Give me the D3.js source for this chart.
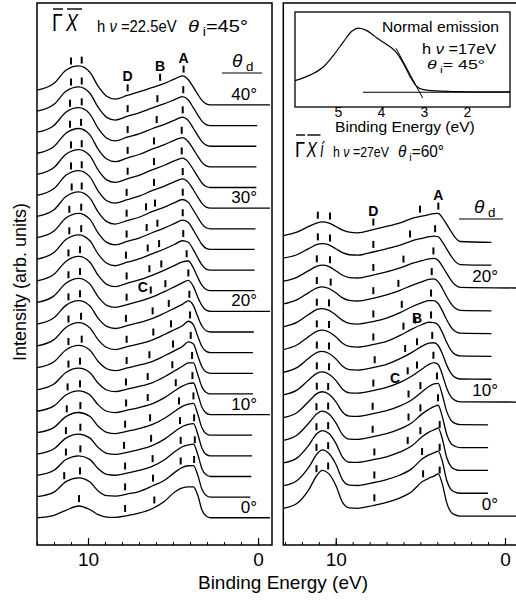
<!DOCTYPE html>
<html>
<head>
<meta charset="utf-8">
<script src="https://cdn.jsdelivr.net/npm/d3@7/dist/d3.min.js"></script>
<style>
body { margin: 0; background: #fff; }
svg { display: block; }
text { font-family: "Liberation Sans", Arial, Helvetica, sans-serif; fill: #000; }
</style>
</head>
<body>
<div id="chart"></div>
<script>
// ---- left panel (GX, hv=22.5eV) : binding energies and intensities per emission angle
const energyLeft = [13, 12, 11.3, 10.55, 9.9, 9.4, 8.9, 8.4, 7.7, 7.0, 6.2, 5.5, 4.9, 4.45, 4.1, 3.8, 3.55, 3.3, 3.05, 2.8]
const anglesLeft = [0, 2, 4, 6, 8, 10, 12, 14, 16, 18, 20, 22, 24, 26, 28, 30, 32, 34, 36, 38, 40]
const spectraLeft = [
  [0.00, 0.12, 0.36, 0.57, 0.40, 0.15, 0.03, 0.02, 0.10, 0.22, 0.45, 0.80, 1.25, 1.45, 1.50, 1.50, 1.10, 0.38, 0.08, 0],
  [0.02, 0.24, 0.75, 0.93, 0.74, 0.30, 0.07, 0.05, 0.15, 0.27, 0.55, 0.82, 1.20, 1.44, 1.52, 1.53, 1.08, 0.38, 0.08, 0],
  [0.05, 0.30, 0.82, 1.00, 0.83, 0.37, 0.10, 0.06, 0.16, 0.29, 0.50, 0.81, 1.20, 1.44, 1.53, 1.57, 1.08, 0.38, 0.08, 0],
  [0.08, 0.34, 0.86, 1.05, 0.87, 0.40, 0.12, 0.07, 0.17, 0.30, 0.51, 0.81, 1.18, 1.42, 1.52, 1.56, 1.06, 0.37, 0.07, 0],
  [0.12, 0.38, 0.90, 1.10, 0.92, 0.43, 0.14, 0.08, 0.19, 0.32, 0.52, 0.82, 1.16, 1.40, 1.50, 1.54, 1.03, 0.36, 0.07, 0],
  [0.16, 0.42, 0.95, 1.15, 0.96, 0.47, 0.16, 0.09, 0.21, 0.34, 0.53, 0.82, 1.15, 1.38, 1.50, 1.53, 1.00, 0.35, 0.07, 0],
  [0.20, 0.48, 1.04, 1.25, 1.04, 0.52, 0.19, 0.11, 0.23, 0.36, 0.55, 0.83, 1.12, 1.34, 1.50, 1.50, 0.95, 0.34, 0.07, 0],
  [0.27, 0.56, 1.13, 1.35, 1.13, 0.57, 0.22, 0.13, 0.26, 0.39, 0.58, 0.85, 1.10, 1.30, 1.52, 1.42, 0.86, 0.32, 0.06, 0],
  [0.33, 0.63, 1.22, 1.45, 1.21, 0.62, 0.25, 0.15, 0.29, 0.42, 0.62, 0.88, 1.12, 1.30, 1.52, 1.35, 0.80, 0.30, 0.06, 0],
  [0.38, 0.69, 1.29, 1.52, 1.27, 0.66, 0.27, 0.17, 0.31, 0.45, 0.66, 0.92, 1.16, 1.34, 1.51, 1.28, 0.75, 0.29, 0.06, 0],
  [0.43, 0.75, 1.36, 1.60, 1.33, 0.70, 0.29, 0.19, 0.33, 0.48, 0.70, 0.96, 1.20, 1.38, 1.50, 1.20, 0.70, 0.28, 0.06, 0],
  [0.48, 0.80, 1.42, 1.66, 1.39, 0.74, 0.31, 0.20, 0.36, 0.52, 0.76, 1.00, 1.23, 1.40, 1.44, 1.10, 0.65, 0.26, 0.06, 0],
  [0.53, 0.85, 1.48, 1.71, 1.43, 0.77, 0.33, 0.21, 0.38, 0.54, 0.80, 1.02, 1.25, 1.42, 1.35, 0.98, 0.60, 0.25, 0.05, 0],
  [0.57, 0.89, 1.52, 1.75, 1.47, 0.79, 0.34, 0.22, 0.39, 0.55, 0.82, 1.04, 1.26, 1.42, 1.31, 0.93, 0.58, 0.24, 0.05, 0],
  [0.60, 0.92, 1.56, 1.79, 1.50, 0.81, 0.35, 0.23, 0.40, 0.56, 0.84, 1.05, 1.27, 1.42, 1.28, 0.90, 0.56, 0.24, 0.05, 0],
  [0.62, 0.95, 1.59, 1.82, 1.53, 0.83, 0.36, 0.24, 0.41, 0.58, 0.86, 1.07, 1.29, 1.42, 1.25, 0.88, 0.55, 0.23, 0.05, 0],
  [0.64, 0.97, 1.61, 1.84, 1.55, 0.84, 0.37, 0.25, 0.42, 0.59, 0.87, 1.08, 1.30, 1.42, 1.23, 0.86, 0.53, 0.22, 0.05, 0],
  [0.66, 0.99, 1.63, 1.86, 1.56, 0.85, 0.38, 0.25, 0.43, 0.60, 0.87, 1.08, 1.30, 1.42, 1.22, 0.85, 0.52, 0.22, 0.05, 0],
  [0.68, 1.01, 1.65, 1.87, 1.57, 0.86, 0.39, 0.26, 0.44, 0.60, 0.86, 1.06, 1.27, 1.41, 1.24, 0.86, 0.53, 0.22, 0.05, 0],
  [0.70, 1.03, 1.66, 1.88, 1.58, 0.88, 0.40, 0.27, 0.45, 0.62, 0.86, 1.06, 1.26, 1.40, 1.24, 0.86, 0.52, 0.22, 0.05, 0],
  [0.72, 1.05, 1.68, 1.89, 1.60, 0.90, 0.42, 0.28, 0.46, 0.63, 0.85, 1.05, 1.26, 1.41, 1.22, 0.85, 0.52, 0.22, 0.05, 0]
]
// last binding energy of each trace (labelled traces run longer)
const endLeft = [-0.7, 0.45, 0.4, 0.35, 0.35, -0.7, 0.3, 0.3, 0.3, 0.25, -0.7, 0.2, 0.2, 0.2, 0.15, -0.7, 0.1, 0.1, 0.1, 0.05, -0.7]
// peak marker positions (eV)
const marksLeft = [
  [10.53, 7.82, 6.1],
  [11.4, 10.47, 7.82, 6.18, 4.55, 3.76],
  [11.3, 10.45, 7.82, 6.2, 4.55, 3.72],
  [11.3, 10.45, 7.88, 6.29, 4.59, 3.76],
  [11.25, 10.45, 7.82, 6.35, 4.65, 3.8],
  [11.2, 10.47, 7.76, 6.49, 4.84, 3.86],
  [11.15, 10.47, 7.77, 6.49, 5.04, 3.88],
  [11.15, 10.37, 7.73, 6.39, 5.0, 3.96],
  [11.15, 10.41, 7.73, 6.16, 5.12, 4.0],
  [11.15, 10.47, 7.77, 6.2, 5.25, 4.04],
  [11.15, 10.47, 7.73, 6.31, 5.45, 4.1],
  [11.15, 10.47, 7.73, 6.39, 5.69, 4.2],
  [11.1, 10.4, 7.77, 6.49, 5.82, 4.4],
  [11.1, 10.4, 7.73, 6.55, 5.92, 4.43],
  [10.96, 10.37, 7.73, 6.59, 6.06, 4.43],
  [11.0, 10.37, 7.73, 6.12, 4.43],
  [11.0, 10.37, 7.67, 6.12, 4.49],
  [11.06, 10.41, 7.67, 6.12, 4.49],
  [11.06, 10.37, 7.67, 5.96, 4.43],
  [11.0, 10.37, 7.67, 5.92, 4.4],
  [11.0, 10.37, 7.67, 5.76, 4.38]
]

// ---- right panel (GX', hv=27eV)
const energyRight = [13.1, 12.3, 11.6, 11.1, 10.8, 10.4, 10.0, 9.6, 9.2, 8.7, 7.8, 7.0, 6.2, 5.5, 4.9, 4.5, 4.2, 3.95, 3.7, 3.45, 3.2, 2.95, 2.65]
const anglesRight = [0, 2, 4, 6, 8, 10, 12, 14, 16, 18, 20, 22, 24]
const spectraRight = [
  [0.34, 0.55, 1.15, 1.80, 2.00, 1.85, 1.35, 0.60, 0.36, 0.34, 0.46, 0.60, 0.80, 1.08, 1.50, 1.66, 1.75, 1.85, 1.40, 0.60, 0.18, 0.05, 0],
  [0.33, 0.55, 1.13, 1.73, 1.90, 1.74, 1.28, 0.59, 0.36, 0.34, 0.46, 0.60, 0.80, 1.08, 1.50, 1.68, 1.77, 1.85, 1.40, 0.58, 0.17, 0.05, 0],
  [0.33, 0.54, 1.10, 1.63, 1.75, 1.62, 1.20, 0.58, 0.36, 0.35, 0.47, 0.60, 0.81, 1.08, 1.48, 1.68, 1.78, 1.86, 1.38, 0.58, 0.18, 0.05, 0],
  [0.32, 0.54, 1.07, 1.50, 1.60, 1.48, 1.10, 0.57, 0.37, 0.36, 0.48, 0.61, 0.82, 1.09, 1.48, 1.68, 1.80, 1.86, 1.35, 0.60, 0.19, 0.06, 0],
  [0.32, 0.53, 1.02, 1.38, 1.45, 1.34, 1.02, 0.56, 0.38, 0.37, 0.49, 0.62, 0.83, 1.10, 1.45, 1.68, 1.80, 1.82, 1.30, 0.60, 0.21, 0.06, 0.01],
  [0.31, 0.52, 0.97, 1.27, 1.32, 1.22, 0.95, 0.56, 0.40, 0.39, 0.50, 0.64, 0.86, 1.14, 1.45, 1.65, 1.73, 1.65, 1.20, 0.62, 0.24, 0.07, 0.01],
  [0.30, 0.51, 0.92, 1.18, 1.22, 1.13, 0.90, 0.57, 0.42, 0.40, 0.51, 0.65, 0.90, 1.18, 1.45, 1.58, 1.60, 1.48, 1.12, 0.63, 0.27, 0.08, 0.01],
  [0.30, 0.50, 0.87, 1.11, 1.15, 1.07, 0.86, 0.58, 0.44, 0.41, 0.52, 0.66, 0.92, 1.20, 1.40, 1.50, 1.48, 1.38, 1.05, 0.62, 0.28, 0.09, 0.02],
  [0.30, 0.49, 0.84, 1.06, 1.10, 1.02, 0.82, 0.58, 0.45, 0.42, 0.53, 0.68, 0.92, 1.18, 1.36, 1.45, 1.45, 1.32, 1.00, 0.62, 0.30, 0.10, 0.02],
  [0.30, 0.48, 0.80, 1.01, 1.05, 0.98, 0.79, 0.57, 0.46, 0.43, 0.55, 0.70, 0.90, 1.12, 1.28, 1.38, 1.40, 1.28, 0.98, 0.63, 0.33, 0.12, 0.02],
  [0.30, 0.47, 0.76, 0.96, 1.00, 0.94, 0.76, 0.56, 0.46, 0.44, 0.57, 0.71, 0.88, 1.08, 1.20, 1.28, 1.30, 1.22, 0.95, 0.65, 0.36, 0.14, 0.03],
  [0.31, 0.46, 0.73, 0.91, 0.95, 0.89, 0.72, 0.55, 0.46, 0.44, 0.58, 0.72, 0.88, 1.07, 1.18, 1.25, 1.28, 1.25, 1.02, 0.72, 0.42, 0.17, 0.03],
  [0.30, 0.45, 0.70, 0.86, 0.90, 0.85, 0.70, 0.54, 0.45, 0.42, 0.56, 0.70, 0.86, 1.05, 1.15, 1.22, 1.26, 1.27, 1.08, 0.80, 0.50, 0.22, 0.04]
]
const endRight = [-0.7, 1.0, 1.0, 1.0, 1.0, -0.7, 0.8, 0.8, 0.8, 0.8, -0.7, 0.8, 0.8]
const marksRight = [
  [11.14, 10.45, 7.72, 4.84, 3.86],
  [11.14, 10.45, 7.72, 4.9, 3.86],
  [11.14, 10.45, 7.72, 5.75, 5.0, 3.86],
  [11.14, 10.45, 7.82, 5.7, 5.0, 3.96],
  [11.12, 10.45, 7.82, 5.7, 5.0, 4.02],
  [11.12, 10.4, 7.78, 5.75, 5.2, 4.23],
  [11.12, 10.4, 7.7, 5.9, 5.2, 4.3],
  [11.12, 10.4, 7.78, 6.0, 5.3, 4.37],
  [11.12, 10.4, 7.78, 6.1, 4.37],
  [11.12, 10.3, 7.78, 6.3, 4.33],
  [11.12, 10.34, 7.78, 6.0, 4.23],
  [11.06, 10.34, 7.78, 5.61, 4.13],
  [11.06, 10.34, 7.78, 5.02, 3.94]
]

// ---- inset: normal emission, hv=17eV
const insetEnergy = [6.0, 5.64, 5.33, 5.1, 4.87, 4.68, 4.52, 4.33, 4.2, 4.1, 3.95, 3.86, 3.75, 3.63, 3.48, 3.32, 3.17, 3.01, 2.7, 2.24, 1.6, 1.0]
const insetIntensity = [0.18, 0.27, 0.40, 0.58, 0.79, 0.95, 1.0, 0.96, 0.9, 0.85, 0.78, 0.74, 0.69, 0.61, 0.45, 0.24, 0.09, 0.04, 0.02, 0.01, 0.005, 0.005]
const insetBackground = [[4.42, 0], [1.0, 0]]
const insetEdgeFit = [[3.65, 0.685], [3.03, -0.09]]
const insetTicks = [5, 4, 3, 2]

const W = 516, H = 601
const svg = d3.select('#chart').append('svg').attr('width', W).attr('height', H)

const xL = d3.scaleLinear().domain([13, -0.82]).range([37, 272])
const yL = d3.scaleLinear().domain([-1.32, 24.94]).range([545, 3])
const xR = d3.scaleLinear().domain([13.1, -0.65]).range([283.3, 516])
const yR = d3.scaleLinear().domain([-1.27, 22.5]).range([545, 3])

function valueAt(energies, vals, e) {
  for (let i = 0; i < energies.length - 1; i++) {
    if (e <= energies[i] && e >= energies[i + 1]) {
      const t = (energies[i] - e) / (energies[i] - energies[i + 1])
      return vals[i] + t * (vals[i + 1] - vals[i])
    }
  }
  return 0
}

// squeeze a text horizontally to the width it has in the figure
function fitWidth(text, x, width) {
  const w = text.node().getBBox().width
  const s = width / w
  text.attr('transform', `translate(${x},0) scale(${s},1) translate(${-x},0)`)
  return text
}

function drawSpectra(g, x, y, energies, spectra, ends, marks) {
  const line = d3.line().x(d => x(d[0])).y(d => y(d[1])).curve(d3.curveMonotoneX)
  const tops = []
  spectra.forEach((vals, k) => {
    const pts = energies.map((e, i) => [e, k + vals[i]])
    pts.push([ends[k], k])
    g.append('path')
      .attr('d', line(pts))
      .style('fill', 'none')
      .style('stroke', '#000')
      .style('stroke-width', 1.3)
    tops[k] = []
    marks[k].forEach(e => {
      const yy = y(k + valueAt(energies, vals, e)) - 4
      g.append('line')
        .attr('x1', x(e)).attr('x2', x(e))
        .attr('y1', yy).attr('y2', yy - 7)
        .style('stroke', '#000')
        .style('stroke-width', 2)
      tops[k].push(yy - 7)
    })
  })
  return tops
}

function drawAxis(g, x, yPos) {
  g.append('g')
    .attr('transform', `translate(0,${yPos})`)
    .call(d3.axisBottom(x).tickValues(d3.range(13, -1, -1)).tickSize(-3).tickFormat(''))
    .call(a => a.select('.domain').remove())
    .selectAll('line').style('stroke', '#000').style('stroke-width', 1)
  g.append('g')
    .attr('transform', `translate(0,${yPos})`)
    .call(d3.axisBottom(x).tickValues([10, 0]).tickSize(-7).tickPadding(8))
    .call(a => a.select('.domain').remove())
    .call(a => a.selectAll('line').style('stroke', '#000').style('stroke-width', 1.2))
    .call(a => a.selectAll('text').style('font-size', '19px').style('font-family', '"Liberation Sans", Arial, sans-serif').attr('fill', '#000'))
}

function overTitle(g, x0, y0, letters, size, gap) {
  let x = x0
  letters.forEach(([ch, italic, bar, w]) => {
    const t = g.append('text').attr('x', x).attr('y', y0)
      .style('font-size', size + 'px')
      .style('font-style', italic ? 'italic' : 'normal')
      .text(ch)
    fitWidth(t, x, w)
    if (bar) {
      g.append('line').attr('x1', x + 1).attr('x2', x + w + (italic ? 2 : 0))
        .attr('y1', y0 - 22).attr('y2', y0 - 22)
        .style('stroke', '#000').style('stroke-width', 1.4)
    }
    x += w + gap
  })
}

function hvText(g, x, y, value, size, width) {
  const t = g.append('text').attr('x', x).attr('y', y).style('font-size', size + 'px')
  t.append('tspan').text('h ')
  t.append('tspan').style('font-style', 'italic').text('ν')
  t.append('tspan').text(' =' + value)
  return fitWidth(t, x, width)
}

function thetaText(g, x, y, sub, value, size, width) {
  const t = g.append('text').attr('x', x).attr('y', y).style('font-size', size + 'px')
  t.append('tspan').style('font-style', 'italic').text('θ')
  t.append('tspan').attr('dy', 4).style('font-size', (size * 0.7) + 'px').text(' ' + sub)
  t.append('tspan').attr('dy', -4).text(value)
  if (width) fitWidth(t, x, width)
  return t
}

function angleHeader(g, x, y, x1, x2) {
  thetaText(g, x, y, 'd', '', 19)
  g.append('line').attr('x1', x1).attr('x2', x2).attr('y1', y + 6).attr('y2', y + 6)
    .style('stroke', '#000').style('stroke-width', 1.2)
}

// ---------- left panel
const gl = svg.append('g')
gl.append('rect').attr('x', 37).attr('y', 3).attr('width', 235).attr('height', 542)
  .style('fill', 'none').style('stroke', '#000').style('stroke-width', 1.5)
const topsL = drawSpectra(gl, xL, yL, energyLeft, spectraLeft, endLeft, marksLeft)
drawAxis(gl, xL, 545)

overTitle(gl, 52, 31, [['Γ', false, true, 11], ['X', true, true, 14]], 23, 3)
hvText(gl, 97, 32, '22.5eV', 16, 80)
thetaText(gl, 188, 32, 'i', '=45°', 17, 60)
angleHeader(gl, 232, 67, 222, 262)

anglesLeft.forEach((a, k) => {
  if (a % 10 === 0) {
    gl.append('text').attr('x', 257).attr('y', yL(k) - 5)
      .attr('text-anchor', 'end').style('font-size', '17px').text(a + '°')
  }
})

const letter = (g, x, y, t) => g.append('text').attr('x', x).attr('y', y)
  .attr('text-anchor', 'middle').style('font-size', '14px').style('font-weight', 'bold').text(t)

const kTopL = spectraLeft.length - 1
letter(gl, xL(marksLeft[kTopL][2]), topsL[kTopL][2] - 3, 'D')
letter(gl, xL(marksLeft[kTopL][3]), topsL[kTopL][3] - 3, 'B')
letter(gl, xL(marksLeft[kTopL][4]), topsL[kTopL][4] - 3, 'A')
letter(gl, xL(6.78), yL(10.95), 'C')

// ---------- right panel
const gr = svg.append('g')
gr.append('rect').attr('x', 283.3).attr('y', 3).attr('width', 240).attr('height', 542)
  .style('fill', 'none').style('stroke', '#000').style('stroke-width', 1.5)
const topsR = drawSpectra(gr, xR, yR, energyRight, spectraRight, endRight, marksRight)
drawAxis(gr, xR, 545)

overTitle(gr, 295, 157, [['Γ', false, true, 10], ['X', true, true, 12], ['í', true, false, 5]], 22, 1.5)
hvText(gr, 333, 157, '27eV', 15, 56)
thetaText(gr, 398, 157, 'i', '=60°', 16, 46)
angleHeader(gr, 474, 213, 459, 503)

anglesRight.forEach((a, k) => {
  if (a % 10 === 0) {
    gr.append('text').attr('x', 498).attr('y', yR(k) - 6)
      .attr('text-anchor', 'end').style('font-size', '17px').text(a + '°')
  }
})
const kTopR = spectraRight.length - 1
letter(gr, xR(marksRight[kTopR][2]), topsR[kTopR][2] - 3, 'D')
letter(gr, xR(marksRight[kTopR][4]), topsR[kTopR][4] - 3, 'A')
letter(gr, xR(5.2), yR(8.45), 'B')
letter(gr, xR(6.5), yR(5.82), 'C')

// ---------- inset
const xIn = d3.scaleLinear().domain([6, 1]).range([295, 510])
const yIn = d3.scaleLinear().domain([-0.23, 1.25]).range([107, 12])
const gi = svg.append('g')
gi.append('rect').attr('x', 295).attr('y', 12).attr('width', 215).attr('height', 95)
  .style('fill', '#fff').style('stroke', '#000').style('stroke-width', 1.3)
gi.append('path')
  .attr('d', d3.line().x(d => xIn(d[0])).y(d => yIn(d[1])).curve(d3.curveMonotoneX)(insetEnergy.map((e, i) => [e, insetIntensity[i]])))
  .style('fill', 'none').style('stroke', '#000').style('stroke-width', 1.2)
gi.append('path').attr('d', d3.line().x(d => xIn(d[0])).y(d => yIn(d[1]))(insetBackground))
  .style('fill', 'none').style('stroke', '#000').style('stroke-width', 1.2)
gi.append('path').attr('d', d3.line().x(d => xIn(d[0])).y(d => yIn(d[1]))(insetEdgeFit))
  .style('fill', 'none').style('stroke', '#000').style('stroke-width', 1)
gi.append('g')
  .attr('transform', 'translate(0,107)')
  .call(d3.axisBottom(xIn).tickValues(insetTicks).tickFormat(d3.format('d')).tickSize(0).tickPadding(0))
  .call(a => a.select('.domain').remove())
  .call(a => a.selectAll('text').style('font-size', '14px').style('font-family', '"Liberation Sans", Arial, sans-serif').attr('fill', '#000'))
fitWidth(gi.append('text').attr('x', 335).attr('y', 132)
  .style('font-size', '14px').text('Binding Energy (eV)'), 335, 140)
fitWidth(gi.append('text').attr('x', 382).attr('y', 32).style('font-size', '15.5px').text('Normal emission'), 382, 117)
hvText(gi, 422, 54, '17eV', 14, 75)
thetaText(gi, 427, 69, 'i', '= 45°', 13.5, 58)

// ---------- shared axis titles
svg.append('text').attr('x', 283).attr('y', 589).attr('text-anchor', 'middle')
  .style('font-size', '19px').text('Binding Energy (eV)')
svg.append('text').attr('transform', 'translate(26,282) rotate(-90)').attr('text-anchor', 'middle')
  .style('font-size', '18px').text('Intensity (arb. units)')
</script>
</body>
</html>
